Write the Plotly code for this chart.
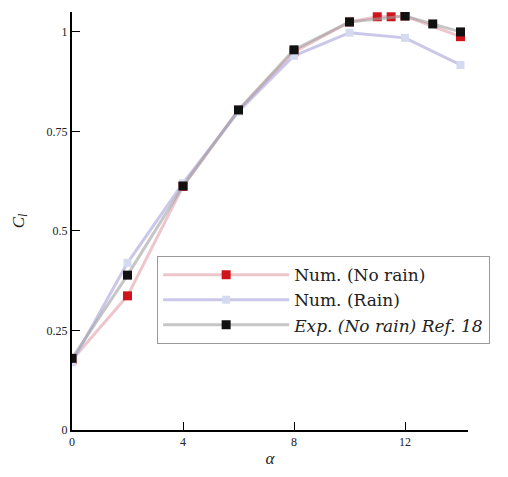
import plotly.graph_objects as go

# Data
alpha_num = [0, 2, 4, 6, 8, 10, 11, 11.5, 12, 14]
cl_num = [0.176, 0.337, 0.612, 0.803, 0.950, 1.025, 1.038, 1.038, 1.040, 0.988]

alpha_rain = [0, 2, 4, 6, 8, 10, 12, 14]
cl_rain = [0.170, 0.420, 0.620, 0.800, 0.940, 0.998, 0.985, 0.917]

alpha_exp = [0, 2, 4, 6, 8, 10, 12, 13, 14]
cl_exp = [0.180, 0.389, 0.613, 0.804, 0.955, 1.025, 1.040, 1.020, 1.000]

x_ticks = [0, 4, 8, 12]
y_ticks = [0, 0.25, 0.5, 0.75, 1]
y_tick_labels = ["0", "0.25", "0.5", "0.75", "1"]

serif = "Liberation Serif, Times New Roman, serif"
wide_serif = "DejaVu Serif, serif"

fig = go.Figure()
fig.add_trace(go.Scatter(
    x=alpha_num, y=cl_num, mode="lines+markers", name="Num. (No rain)",
    line=dict(color="rgba(225,160,170,0.6)", width=3),
    marker=dict(color="#d0141e", size=9, symbol="square")))
fig.add_trace(go.Scatter(
    x=alpha_rain, y=cl_rain, mode="lines+markers", name="Num. (Rain)",
    line=dict(color="rgba(180,175,225,0.7)", width=3),
    marker=dict(color="#d4dbf0", size=8, symbol="square")))
fig.add_trace(go.Scatter(
    x=alpha_exp, y=cl_exp, mode="lines+markers", name="<i>Exp. (No rain) Ref. 18</i>",
    line=dict(color="rgba(160,160,160,0.6)", width=3),
    marker=dict(color="#111111", size=9, symbol="square")))

fig.update_layout(
    width=500, height=469,
    margin=dict(l=64, r=40, t=4, b=47, autoexpand=False),
    paper_bgcolor="white", plot_bgcolor="white",
    font=dict(family=serif, color="#222", size=12),
    showlegend=True,
    legend=dict(
        x=0.215, y=0.416, xanchor="left", yanchor="top",
        bgcolor="white", bordercolor="#999", borderwidth=1,
        font=dict(family=wide_serif, size=17, color="#222"),
        itemwidth=126, tracegroupgap=0,
    ),
    xaxis=dict(
        range=[0, 14.27], tickvals=x_ticks, ticks="inside", ticklen=8, tickcolor="black",
        showline=True, linecolor="black", linewidth=2, showgrid=False, zeroline=False,
        tickfont=dict(family=serif, size=12, color="#222"), automargin=False,
        title=dict(text="<i>α</i>", font=dict(family=serif, size=17, color="#222"), standoff=4),
    ),
    yaxis=dict(
        range=[0, 1.05], tickvals=y_ticks, ticktext=y_tick_labels, ticks="inside", ticklen=8,
        tickcolor="black",
        showline=True, linecolor="black", linewidth=2, showgrid=False, zeroline=False,
        tickfont=dict(family=serif, size=12, color="#222"), automargin=False,
        title=dict(text="<i>C<sub>l</sub></i>", font=dict(family=serif, size=17, color="#222"), standoff=18),
    ),
)

fig.write_html("out.html")
